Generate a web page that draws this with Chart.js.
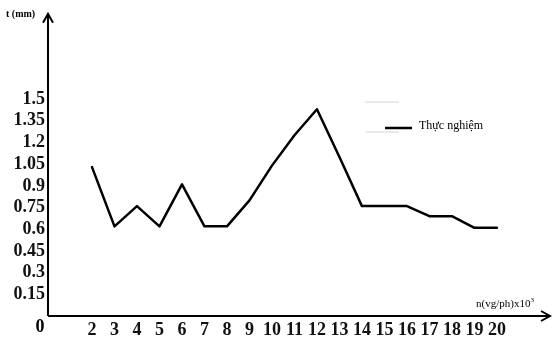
<!DOCTYPE html>
<html>
<head>
<meta charset="utf-8">
<script src="https://cdn.jsdelivr.net/npm/chart.js@4.4.1/dist/chart.umd.min.js"></script>
<style>
  body { margin: 0; background: #fff; }
  #wrap { width: 558px; height: 341px; }
</style>
</head>
<body>
<div id="wrap"><canvas id="c" width="558" height="341"></canvas></div>
<script>
// số vòng quay n (x10^3 vg/ph)
const nVals = [2, 3, 4, 5, 6, 7, 8, 9, 10, 11, 12, 13, 14, 15, 16, 17, 18, 19, 20];
// chiều dày t (mm) - thực nghiệm
const tVals = [1.03, 0.62, 0.76, 0.62, 0.91, 0.62, 0.62, 0.8, 1.04, 1.25, 1.43, 1.1, 0.76, 0.76, 0.76, 0.69, 0.69, 0.61, 0.61];
const yTicks = [0.15, 0.3, 0.45, 0.6, 0.75, 0.9, 1.05, 1.2, 1.35, 1.5];
const yTickLabels = ['0.15', '0.3', '0.45', '0.6', '0.75', '0.9', '1.05', '1.2', '1.35', '1.5'];
const seriesName = 'Thực nghiệm';

const SERIF = "'Liberation Serif', 'DejaVu Serif', serif";

// trục có mũi tên, nhãn trục, chú thích
const decor = {
  id: 'decor',
  afterDraw(chart) {
    const { ctx, chartArea: a } = chart;
    ctx.save();
    ctx.strokeStyle = '#000';
    ctx.lineWidth = 2;
    ctx.beginPath();
    ctx.moveTo(a.left, a.bottom);
    ctx.lineTo(a.left, a.top);
    ctx.moveTo(a.left, a.bottom);
    ctx.lineTo(a.right, a.bottom);
    ctx.stroke();
    // mũi tên
    ctx.beginPath();
    ctx.moveTo(a.left - 5, a.top + 9);
    ctx.lineTo(a.left, a.top);
    ctx.lineTo(a.left + 5, a.top + 9);
    ctx.moveTo(a.right - 9, a.bottom - 5);
    ctx.lineTo(a.right, a.bottom);
    ctx.lineTo(a.right - 9, a.bottom + 5);
    ctx.stroke();

    ctx.fillStyle = '#000';
    ctx.textBaseline = 'middle';
    ctx.font = 'bold 10px ' + SERIF;
    ctx.textAlign = 'left';
    ctx.fillText('t (mm)', 6, 14);

    ctx.font = 'bold 18px ' + SERIF;
    ctx.textAlign = 'center';
    ctx.fillText('0', 40, 327);

    ctx.font = '11px ' + SERIF;
    ctx.textAlign = 'left';
    const base = 'n(vg/ph)x10';
    ctx.fillText(base, 476, 304);
    const w = ctx.measureText(base).width;
    ctx.font = '7px ' + SERIF;
    ctx.fillText('3', 476 + w, 300);

    // chú thích
    ctx.strokeStyle = '#d4d4d4';
    ctx.lineWidth = 1;
    ctx.beginPath();
    ctx.moveTo(365, 102); ctx.lineTo(399, 102);
    ctx.moveTo(366, 132); ctx.lineTo(399, 132);
    ctx.stroke();
    ctx.strokeStyle = '#000';
    ctx.lineWidth = 2.5;
    ctx.beginPath();
    ctx.moveTo(385, 128); ctx.lineTo(412, 128);
    ctx.stroke();
    ctx.font = '12px ' + SERIF;
    ctx.fillText(seriesName, 419, 126);
    ctx.restore();
  }
};

new Chart(document.getElementById('c'), {
  type: 'line',
  data: {
    datasets: [{
      label: seriesName,
      data: nVals.map((n, i) => ({ x: n, y: tVals[i] })),
      borderColor: '#000',
      borderWidth: 2.5,
      borderJoinStyle: 'round',
      borderCapStyle: 'round',
      pointRadius: 0,
      tension: 0,
      fill: false
    }]
  },
  options: {
    responsive: false,
    animation: false,
    layout: { padding: { top: 12, right: 8, left: 0, bottom: 0 } },
    plugins: { legend: { display: false }, tooltip: { enabled: false } },
    scales: {
      x: {
        type: 'linear',
        min: 0.044,
        max: 22.36,
        afterBuildTicks: s => { s.ticks = nVals.map(v => ({ value: v })); },
        afterFit: s => { s.height = 25; },
        grid: { display: false, drawTicks: false },
        border: { display: false },
        ticks: {
          autoSkip: false,
          maxRotation: 0,
          padding: 4,
          color: '#111',
          font: { family: SERIF, size: 18, weight: 'bold' },
          callback: v => String(v)
        }
      },
      y: {
        min: 0,
        max: 2.09,
        afterBuildTicks: s => { s.ticks = yTicks.map(v => ({ value: v })); },
        afterFit: s => { s.width = 48; },
        grid: { display: false, drawTicks: false },
        border: { display: false },
        ticks: {
          autoSkip: false,
          padding: 3,
          color: '#111',
          font: { family: SERIF, size: 18, weight: 'bold' },
          callback: v => yTickLabels[yTicks.indexOf(v)] ?? ''
        }
      }
    }
  },
  plugins: [decor]
});
</script>
</body>
</html>
